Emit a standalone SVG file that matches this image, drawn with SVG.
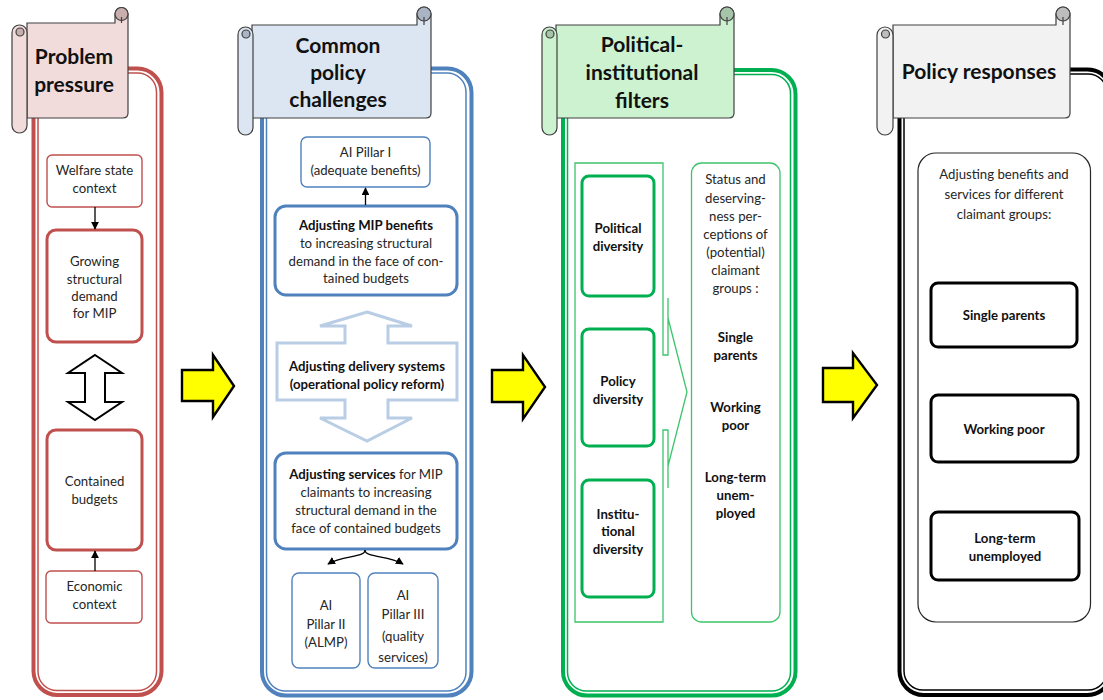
<svg xmlns="http://www.w3.org/2000/svg" width="1103" height="700" viewBox="0 0 1103 700">
<defs>
<style>
text{font-family:Lato,"Open Sans","Liberation Sans",sans-serif;fill:#262626;text-anchor:middle;font-size:13.2px}
.t{font-size:21px;font-weight:bold;fill:#111}
.b{font-weight:bold;fill:#111}
.bn{stroke:#404040;stroke-width:1.2}
.fo{fill:none;stroke-width:4}
.fi{fill:none;stroke-width:1.5}
.thin{fill:#fff;stroke-width:1.4}
.thick{fill:#fff;stroke-width:3}
.red{stroke:#c0504d}
.blue{stroke:#4f81bd}
.green{stroke:#00b050}
.blk{stroke:#000}
.ln{fill:none;stroke:#000;stroke-width:1.3}
.ya{fill:#ffff00;stroke:#000;stroke-width:2.4;stroke-linejoin:miter}
</style>
<marker id="ah" viewBox="0 0 10 10" refX="9" refY="5" markerWidth="6" markerHeight="6" orient="auto"><path d="M0,0 L10,5 L0,10 z" fill="#000"/></marker>
</defs>
<rect width="1103" height="700" fill="#fff"/>

<!-- Column 1: Problem pressure -->
<g id="col-problem">
<rect class="fo red" x="33.5" y="68.5" width="128" height="626.5" rx="24"/>
<rect class="fi red" x="38" y="73" width="118.5" height="617.5" rx="19"/>
<g id="banner-problem">
<path class="bn" fill="#f2dcdb" d="M27,23 H115 V14 A6.5,6.5 0 0 1 128,14 V113 Q128,118 123,118 H27 Z"/>
<circle class="bn" cx="121.5" cy="14" r="6.5" fill="#c9aeae"/>
<path class="bn" fill="none" d="M121.5,17 V23"/>
<rect class="bn" fill="#f2dcdb" x="12" y="25" width="15" height="108" rx="7.5"/>
<circle class="bn" cx="20" cy="32" r="4" fill="#c9aeae"/>
<text class="t" x="74" y="64">Problem</text>
<text class="t" x="74" y="92">pressure</text>
</g>
</g>
<g id="n-welfare"><rect class="thin red" x="47" y="155" width="95" height="52" rx="5"/>
<text x="94.5" y="175">Welfare state</text><text x="94.5" y="193">context</text></g>
<g id="n-growing"><rect class="thick red" x="47" y="230" width="95" height="112" rx="9"/>
<text x="94.5" y="266">Growing</text><text x="94.5" y="284">structural</text><text x="94.5" y="301">demand</text><text x="94.5" y="318">for MIP</text></g>
<g id="n-contained"><rect class="thick red" x="47" y="430" width="95" height="120" rx="9"/>
<text x="94.5" y="486">Contained</text><text x="94.5" y="504">budgets</text></g>
<g id="n-economic"><rect class="thin red" x="46" y="571" width="96" height="52" rx="5"/>
<text x="94.5" y="591">Economic</text><text x="94.5" y="609">context</text></g>

<!-- Column 2: Common policy challenges -->
<g id="col-challenges">
<rect class="fo blue" x="262" y="68.5" width="209.5" height="627" rx="24"/>
<rect class="fi blue" x="266.5" y="73" width="199.5" height="618" rx="19"/>
<g id="banner-challenges">
<path class="bn" fill="#dce6f2" d="M252,25 H417 V14 A7,7 0 0 1 431,14 V113 Q431,118 426,118 H252 Z"/>
<circle class="bn" cx="424" cy="14" r="7" fill="#a9b5c4"/>
<path class="bn" fill="none" d="M424,17 V25"/>
<rect class="bn" fill="#dce6f2" x="238" y="27" width="15" height="108" rx="7.5"/>
<circle class="bn" cx="246" cy="34" r="4" fill="#a9b5c4"/>
<text class="t" x="338" y="53">Common</text>
<text class="t" x="338" y="80">policy</text>
<text class="t" x="338" y="107">challenges</text>
</g>
</g>
<g id="n-pillar1"><rect class="thin blue" x="301" y="137" width="129" height="50" rx="6"/>
<text x="365.5" y="157">AI Pillar I</text><text x="365.5" y="175">(adequate benefits)</text></g>
<g id="n-mipbenefits"><rect class="thick blue" x="275" y="206" width="182" height="89" rx="11"/>
<text class="b" x="366" y="230">Adjusting MIP benefits</text>
<text x="366" y="248">to increasing structural</text>
<text x="366" y="266">demand in the face of con-</text>
<text x="366" y="283">tained budgets</text></g>
<g id="n-delivery">
<path d="M367,312 L412,326 H388 V343 H457 V400 H388 V418 H412 L367,441 L320,418 H345 V400 H277 V343 H345 V326 H320 Z" fill="#fff" stroke="#b9cde5" stroke-width="3" stroke-linejoin="miter"/>
<text class="b" x="367" y="371">Adjusting delivery systems</text>
<text class="b" x="367" y="389">(operational policy reform)</text></g>
<g id="n-services"><rect class="thick blue" x="275" y="453" width="182" height="96" rx="11"/>
<text x="366" y="479"><tspan class="b">Adjusting services</tspan> for MIP</text>
<text x="366" y="497">claimants to increasing</text>
<text x="366" y="515">structural demand in the</text>
<text x="366" y="533">face of contained budgets</text></g>
<g id="n-pillar2"><rect class="thin blue" x="292" y="573" width="68" height="95" rx="7"/>
<text x="326" y="610">AI</text><text x="326" y="629">Pillar II</text><text x="326" y="647">(ALMP)</text></g>
<g id="n-pillar3"><rect class="thin blue" x="368" y="573" width="70" height="95" rx="7"/>
<text x="403" y="600">AI</text><text x="403" y="619">Pillar III</text><text x="403" y="641">(quality</text><text x="403" y="662">services)</text></g>

<!-- Column 3: Political-institutional filters -->
<g id="col-filters">
<rect class="fo green" x="563" y="70" width="232.5" height="625.5" rx="24"/>
<rect class="fi green" x="567.5" y="74.5" width="223" height="616.5" rx="19"/>
<g id="banner-filters">
<path class="bn" fill="#ccf2d0" d="M556,25 H720 V14 A7,7 0 0 1 734,14 V113 Q734,118 729,118 H556 Z"/>
<circle class="bn" cx="727" cy="14" r="7" fill="#a6c4a8"/>
<path class="bn" fill="none" d="M727,17 V25"/>
<rect class="bn" fill="#ccf2d0" x="542" y="27" width="15" height="108" rx="7.5"/>
<circle class="bn" cx="550" cy="34" r="4" fill="#a6c4a8"/>
<text class="t" x="642" y="52">Political-</text>
<text class="t" x="642" y="80">institutional</text>
<text class="t" x="642" y="108">filters</text>
</g>
</g>
<g id="n-filterblock">
<path d="M575,163 H663 V355 H668 V318 L687,392 L668,466 V430 H663 V622 H575 Z" fill="#fff" stroke="#3cc46a" stroke-width="1.3"/>
<path d="M668,298 V318 M668,466 V488" fill="none" stroke="#3cc46a" stroke-width="1.3"/>
</g>
<g id="n-political"><rect class="thick green" x="582" y="176" width="72" height="120" rx="7"/>
<text class="b" x="618" y="233">Political</text><text class="b" x="618" y="251">diversity</text></g>
<g id="n-policydiv"><rect class="thick green" x="582" y="329" width="72" height="117" rx="7"/>
<text class="b" x="618" y="386">Policy</text><text class="b" x="618" y="404">diversity</text></g>
<g id="n-institutional"><rect class="thick green" x="582" y="480" width="72" height="117" rx="7"/>
<text class="b" x="618" y="519">Institu-</text><text class="b" x="618" y="536">tional</text><text class="b" x="618" y="554">diversity</text></g>
<g id="n-status"><rect x="691.5" y="163" width="88.5" height="459" rx="10" fill="#fff" stroke="#3cc46a" stroke-width="1.3"/>
<text x="735.5" y="184">Status and</text><text x="735.5" y="203">deserving-</text><text x="735.5" y="221">ness per-</text><text x="735.5" y="239">ceptions of</text><text x="735.5" y="257">(potential)</text><text x="735.5" y="275">claimant</text><text x="735.5" y="293">groups :</text>
<text class="b" x="735.5" y="342">Single</text><text class="b" x="735.5" y="360">parents</text>
<text class="b" x="735.5" y="412">Working</text><text class="b" x="735.5" y="430">poor</text>
<text class="b" x="735.5" y="482">Long-term</text><text class="b" x="735.5" y="500">unem-</text><text class="b" x="735.5" y="518">ployed</text></g>

<!-- Column 4: Policy responses -->
<g id="col-responses">
<rect class="fo blk" x="899.5" y="69.5" width="212" height="625.5" rx="24"/>
<rect class="fi blk" x="904" y="74" width="203" height="616" rx="19"/>
<g id="banner-responses">
<path class="bn" fill="#f2f2f2" d="M893,25 H1056 V14 A7,7 0 0 1 1070,14 V113 Q1070,118 1065,118 H893 Z"/>
<circle class="bn" cx="1063" cy="14" r="7" fill="#bdbdbd"/>
<path class="bn" fill="none" d="M1063,17 V25"/>
<rect class="bn" fill="#f2f2f2" x="877" y="27" width="16" height="108" rx="8"/>
<circle class="bn" cx="885.5" cy="34" r="4" fill="#bdbdbd"/>
<text class="t" x="979" y="79">Policy responses</text>
</g>
</g>
<g id="n-adjusting"><rect x="918" y="153" width="172.5" height="469" rx="18" fill="#fff" stroke="#262626" stroke-width="1.2"/>
<text x="1004" y="179">Adjusting benefits and</text><text x="1004" y="199">services for different</text><text x="1004" y="219">claimant groups:</text></g>
<g id="n-single"><rect class="thick blk" x="931" y="283" width="146" height="64" rx="7"/>
<text class="b" x="1004" y="320">Single parents</text></g>
<g id="n-working"><rect class="thick blk" x="931" y="395" width="147" height="67" rx="7"/>
<text class="b" x="1004" y="434">Working poor</text></g>
<g id="n-longterm"><rect class="thick blk" x="931" y="512" width="148" height="68" rx="7"/>
<text class="b" x="1005" y="543">Long-term</text><text class="b" x="1005" y="561">unemployed</text></g>

<!-- Connectors -->
<g id="connectors">
<path class="ln" d="M95,207 V229" marker-end="url(#ah)"/>
<path class="ln" d="M95,571 V551" marker-end="url(#ah)"/>
<path d="M95,355 L122,373 H105 V402 H122 L95,420 L68,402 H85 V373 H68 Z" fill="#fff" stroke="#000" stroke-width="2" stroke-linejoin="miter"/>
<path class="ln" d="M365.5,205 V188" marker-end="url(#ah)"/>
<path class="ln" d="M365,550 C365,558 343,555 328,564" marker-end="url(#ah)"/>
<path class="ln" d="M365,550 C365,558 388,555 403,564" marker-end="url(#ah)"/>
<path class="ya" d="M182,370 H213 V355 L234,386 L213,417 V401 H182 Z"/>
<path class="ya" d="M492,370 H523 V355 L545,387 L523,419 V402 H492 Z"/>
<path class="ya" d="M823,368 H853 V353 L877,385 L853,418 V402 H823 Z"/>
</g>
</svg>
